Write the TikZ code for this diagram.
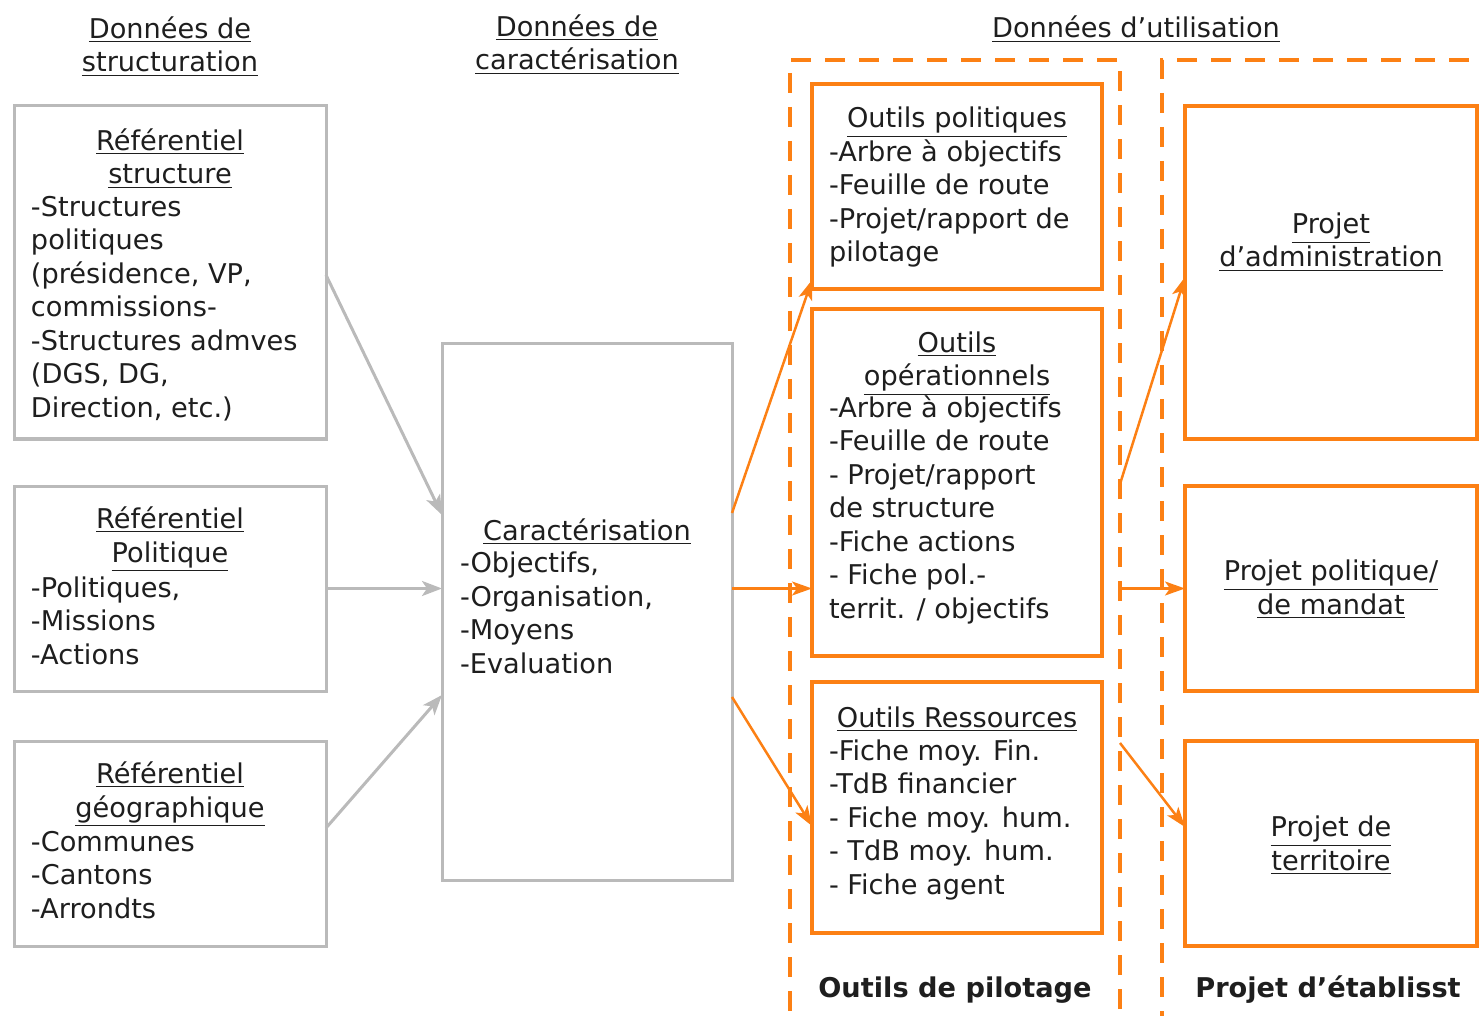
\documentclass[tikz,border=0pt]{standalone}
\usepackage{fontspec}
\setmainfont{DejaVu Sans}
\usetikzlibrary{arrows.meta}
\definecolor{boxgray}{RGB}{186,186,186}
\definecolor{org}{RGB}{252,128,20}
\definecolor{txt}{RGB}{30,30,30}
\begin{document}
\begin{tikzpicture}[x=0.5pt,y=-0.5pt,
  every node/.style={text=txt, font=\fontsize{13.6}{16.75}\selectfont, inner sep=0pt, outer sep=0pt},
  graybox/.style={draw=boxgray, line width=1.5pt, fill=white, minimum width=#1},
  graybox/.default=156pt,
  orangebox/.style={draw=org, line width=2pt, fill=white, minimum width=#1},
  orangebox/.default=145pt,
  dashframe/.style={draw=org, line width=2pt, dash pattern=on 10pt off 7pt},
  ttl/.style={align=center, anchor=base},
  lst/.style={align=left, anchor=base west},
  foot/.style={anchor=base, font=\fontsize{13.6}{16.75}\selectfont\bfseries},
  garrow/.style={draw=boxgray, line width=1.5pt, -{Stealth[length=10pt,width=7.5pt,inset=2.5pt]}},
  oarrow/.style={draw=org, line width=1.25pt, -{Stealth[length=10pt,width=7pt,inset=2.5pt]}}
]
\useasboundingbox (0,0) rectangle (1479,1016);
\clip (0,0) rectangle (1479,1016);

% column headers (base = baseline of last line)
\node[ttl] (h1) at (170,72) {\underline{Données de}\\\underline{structuration}};
\node[ttl] (h2) at (577,70) {\underline{Données de}\\\underline{caractérisation}};
\node[ttl] (h3) at (1136,38) {\underline{Données d’utilisation}};

% dashed frames
\node[dashframe, minimum width=165pt, minimum height=479.5pt] (fr1) at (955,539.5) {};
\node[dashframe, minimum width=160pt, minimum height=479.5pt] (fr2) at (1322,539.5) {};

% left column
\node[graybox, minimum height=166.5pt] (b1) at (170,272.5) {};
\node[ttl] (b1t) at (170,184) {\underline{Référentiel}\\\underline{structure}};
\node[lst] (b1l) at (31,417) {-Structures\\politiques\\(présidence, VP,\\commissions-\\-Structures admves\\(DGS, DG,\\Direction, etc.)};

\node[graybox, minimum height=102.5pt] (b2) at (170,588.5) {};
\node[ttl] (b2t) at (170,562) {\underline{Référentiel}\\\underline{Politique}};
\node[lst] (b2l) at (31,664) {-Politiques,\\-Missions\\-Actions};

\node[graybox, minimum height=102.5pt] (b3) at (170,843.5) {};
\node[ttl] (b3t) at (170,817) {\underline{Référentiel}\\\underline{géographique}};
\node[lst] (b3l) at (31,918) {-Communes\\-Cantons\\-Arrondts};

% center
\node[graybox=145pt, minimum height=268pt] (cb) at (587,612) {};
\node[ttl] (cbt) at (587,540) {\underline{Caractérisation}};
\node[lst] (cbl) at (460,673) {-Objectifs,\\-Organisation,\\-Moyens\\-Evaluation};

% outils de pilotage
\node[orangebox, minimum height=102.5pt] (op1) at (957,186.5) {};
\node[ttl] (op1t) at (957,128) {\underline{Outils politiques}};
\node[lst] (op1l) at (829,262) {-Arbre à objectifs\\-Feuille de route\\-Projet/rapport de\\pilotage};

\node[orangebox, minimum height=173.5pt] (op2) at (957,482.5) {};
\node[ttl] (op2t) at (957,386) {\underline{Outils}\\\underline{opérationnels}};
\node[lst] (op2l) at (829,618) {-Arbre à objectifs\\-Feuille de route\\- Projet/rapport\\de structure\\-Fiche actions\\- Fiche pol.-\\territ. / objectifs};

\node[orangebox, minimum height=125.5pt] (op3) at (957,807.5) {};
\node[ttl] (op3t) at (957,727) {\underline{Outils Ressources}};
\node[lst] (op3l) at (829,894) {-Fiche moy. Fin.\\-TdB financier\\- Fiche moy. hum.\\- TdB moy. hum.\\- Fiche agent};

% projets
\node[orangebox=146pt, minimum height=166.5pt] (pa) at (1331,272.5) {};
\node[ttl] (pat) at (1331,267) {\underline{Projet}\\\underline{d’administration}};
\node[orangebox=146pt, minimum height=102.5pt] (pp) at (1331,588.5) {};
\node[ttl] (ppt) at (1331,614) {\underline{Projet politique/}\\\underline{de mandat}};
\node[orangebox=146pt, minimum height=102.5pt] (pt) at (1331,843.5) {};
\node[ttl] (ptt) at (1331,870) {\underline{Projet de}\\\underline{territoire}};

% footers
\node[foot] (f1) at (955,997) {Outils de pilotage};
\node[foot] (f2) at (1328,997) {Projet d’établisst};

% gray arrows
\draw[garrow] (b1.east |- 0,275) -- (cb.west |- 0,515);
\draw[garrow] (b2.east) -- (b2.east -| cb.west);
\draw[garrow] (b3.east |- 0,828) -- (cb.west |- 0,695);

% orange arrows
\draw[oarrow] (cb.east |- 0,513) -- (op1.west |- 0,280);
\draw[oarrow] (cb.east |- 0,588.5) -- (op2.west |- 0,588.5);
\draw[oarrow] (cb.east |- 0,697) -- (op3.west |- 0,826);

\coordinate (s1) at (fr1.east |- 0,484);
\coordinate (s2) at (fr1.east |- 0,588.5);
\coordinate (s3) at (fr1.east |- 0,743);
\draw[oarrow] (s1) -- (pa.west |- 0,277);
\draw[oarrow] (s2) -- (pp.west |- 0,588.5);
\draw[oarrow] (s3) -- (pt.west |- 0,827);
\end{tikzpicture}
\end{document}
